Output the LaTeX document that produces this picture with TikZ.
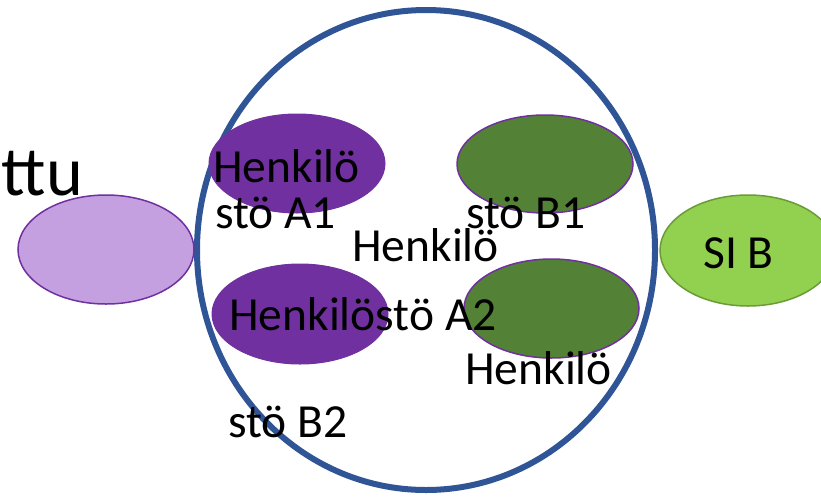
\documentclass[tikz,border=0pt]{standalone}
\usepackage{fontspec}
\setmainfont{Carlito}
\usetikzlibrary{shapes.geometric}
\definecolor{ringblue}{HTML}{2F5597}
\definecolor{darkpurple}{HTML}{7030A0}
\definecolor{lightpurple}{HTML}{C5A0E0}
\definecolor{darkgreen}{HTML}{538135}
\definecolor{lightgreen}{HTML}{92D050}
\definecolor{greenline}{HTML}{6B9B37}
\tikzset{
  blob/.style={ellipse, inner sep=0pt, minimum width=176pt, minimum height=99pt},
  purpleblob/.style={blob, fill=darkpurple, draw=darkpurple, line width=1pt},
  greenblob/.style={blob, fill=darkgreen, draw=darkpurple, line width=1.5pt},
  label/.style={anchor=base west, inner sep=0pt, font=\fontsize{47.5}{47.5}\selectfont},
  biglabel/.style={anchor=base east, inner sep=0pt, font=\fontsize{70}{70}\selectfont}
}
\begin{document}
\begin{tikzpicture}[x=1pt,y=-1pt]
\clip (0,0) rectangle (821,496);
\useasboundingbox (0,0) rectangle (821,496);
% outer ring
\node[ellipse, draw=ringblue, line width=6pt, minimum width=458pt, minimum height=480pt, inner sep=0pt] (ring) at (426,250) {};
% side ellipses
\node[blob, fill=lightpurple, draw=darkpurple, line width=1.5pt, minimum height=109pt] (left) at (106,249.5) {};
\node[blob, fill=lightgreen, draw=greenline, line width=1.5pt, minimum height=111pt] (sib) at (748,250.5) {};
% inner ellipses
\node[purpleblob] (a1) at (297,163.5) {};
\node[greenblob, minimum height=98pt] (b1) at (545,164) {};
\node[purpleblob, minimum height=100pt] (a2) at (300,314) {};
\node[greenblob, minimum width=175pt] (b2) at (551.5,308.5) {};
% texts
\node[biglabel] (ttu) at (83,195) {ttu};
\node[label] (t1) at (213,182) {Henkilö};
\node[label] (t2) at (215,228) {stö A1};
\node[label] (t3) at (466,228) {stö B1};
\node[label] (t4) at (352,261) {Henkilö};
\node[label] (t5) at (229,330) {Henkilöstö A2};
\node[label] (t6) at (465,384) {Henkilö};
\node[label] (t7) at (228,437) {stö B2};
\node[label] (t8) at (703,268) {SI B};
\end{tikzpicture}
\end{document}
